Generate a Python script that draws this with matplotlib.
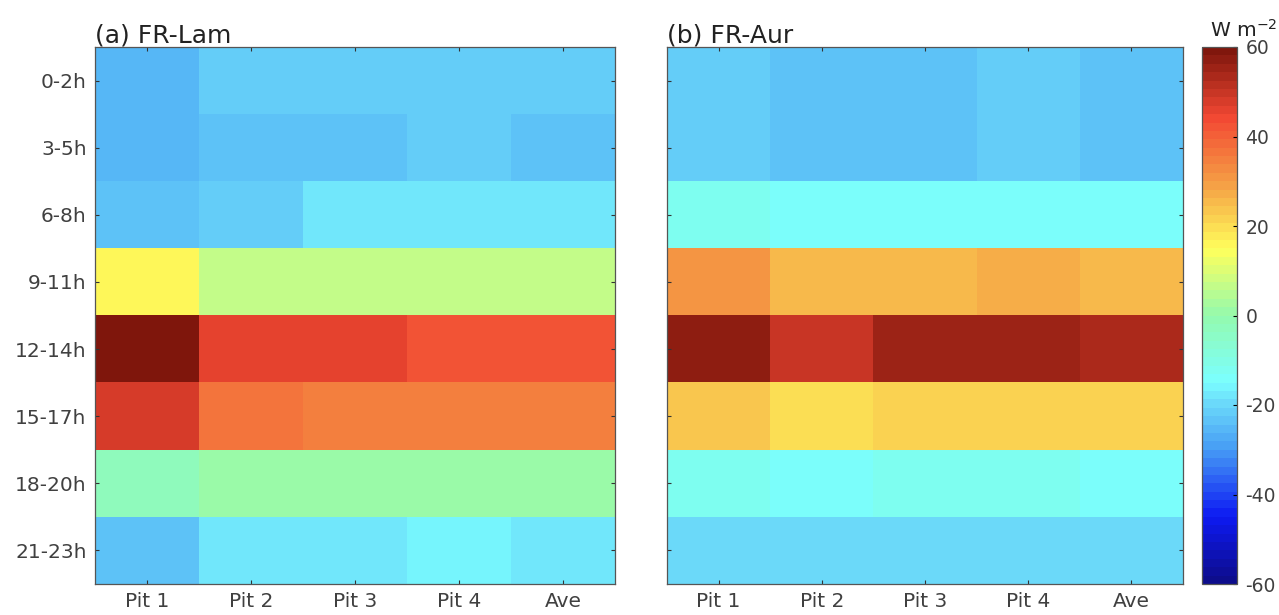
"""Diurnal heat-flux heatmaps for FR-Lam and FR-Aur (3-hour bins x pits), shared colour scale."""
import numpy as np
import matplotlib; matplotlib.use("Agg")
import matplotlib.pyplot as plt
from matplotlib.colors import LinearSegmentedColormap, Normalize
from matplotlib.cm import ScalarMappable

hours = ["0-2h", "3-5h", "6-8h", "9-11h", "12-14h", "15-17h", "18-20h", "21-23h"]
pits = ["Pit 1", "Pit 2", "Pit 3", "Pit 4", "Ave"]

# W m-2, rows = hours, cols = pits
lam = np.array([
    [-26, -21, -21, -21, -21],
    [-26, -23, -23, -21, -23],
    [-23, -21, -18, -18, -18],
    [15, 6, 6, 6, 6],
    [59, 45, 45, 43, 43],
    [47, 37, 35, 35, 35],
    [-2, 0, 0, 1, 0],
    [-23, -18, -18, -16, -18],
])
aur = np.array([
    [-21, -23, -23, -21, -23],
    [-21, -23, -23, -21, -23],
    [-12, -15, -15, -15, -15],
    [31, 25, 25, 28, 25],
    [57, 49, 55, 55, 53],
    [23, 19, 21, 21, 21],
    [-12, -15, -13, -13, -15],
    [-20, -20, -20, -20, -20],
])

# soft jet-like map
cmap = LinearSegmentedColormap.from_list("softjet", [
    (0.000, (0.05, 0.05, 0.55)),
    (0.120, (0.05, 0.10, 0.95)),
    (0.250, (0.28, 0.62, 0.96)),
    (0.333, (0.42, 0.85, 0.98)),
    (0.375, (0.48, 1.00, 1.00)),
    (0.500, (0.58, 0.98, 0.68)),
    (0.625, (1.00, 1.00, 0.36)),
    (0.750, (0.96, 0.62, 0.27)),
    (0.875, (0.95, 0.28, 0.20)),
    (1.000, (0.50, 0.09, 0.05)),
], N=64)
norm = Normalize(-60, 60)

plt.rcParams["font.family"] = "DejaVu Sans"
plt.rcParams["axes.unicode_minus"] = False
txt = "#404040"
fig = plt.figure(figsize=(12.79, 6.15), dpi=100)
W, H = 1279, 615
axA = fig.add_axes([95 / W, 1 - 584 / H, 520 / W, 537 / H])
axB = fig.add_axes([667 / W, 1 - 584 / H, 516 / W, 537 / H])
cax = fig.add_axes([1202 / W, 1 - 584 / H, 35 / W, 537 / H])

for ax, data, title in ((axA, lam, "(a) FR-Lam"), (axB, aur, "(b) FR-Aur")):
    ax.imshow(data, cmap=cmap, norm=norm, aspect="auto", interpolation="nearest")
    ax.set_xticks(range(len(pits)))
    ax.set_xticklabels(pits, fontsize=14.5, color=txt)
    ax.set_yticks(range(len(hours)))
    ax.set_yticklabels(hours if ax is axA else [], fontsize=14.5, color=txt)
    ax.tick_params(direction="in", length=3, width=0.8, color="#333333",
                   top=True, right=True, pad=6)
    ax.set_title(title, loc="left", fontsize=18, color="#222222", pad=3)
    for s in ax.spines.values():
        s.set_color("#555555"); s.set_linewidth(0.9)

cb = fig.colorbar(ScalarMappable(norm=norm, cmap=cmap), cax=cax)
cb.set_ticks([-60, -40, -20, 0, 20, 40, 60])
cb.ax.tick_params(direction="in", length=3, labelsize=13.5, labelcolor=txt, pad=6)
cb.outline.set_edgecolor("#555555"); cb.outline.set_linewidth(0.9)
cb.ax.text(1.18, 1.012, r"W m$^{-2}$", transform=cb.ax.transAxes, ha="center", va="bottom",
           fontsize=14.5, color="#222222")

fig.savefig("out.png", dpi=100)
